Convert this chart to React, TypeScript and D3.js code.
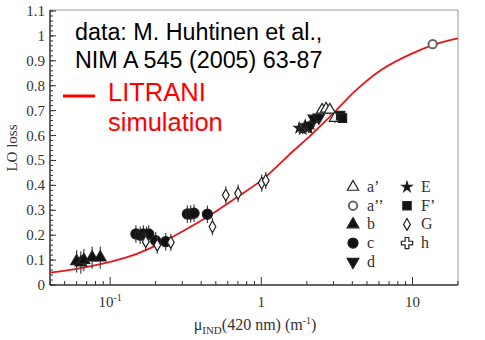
import React from 'react'
import * as d3 from 'd3'

const W = 485
const H = 340
const M = { left: 50, right: 458, top: 11, bottom: 285 }

// LITRANI simulation curve
const curveMu = [0.04, 0.06, 0.1, 0.15, 0.2, 0.3, 0.43, 0.7, 1, 1.64, 2.07, 3, 4.2, 6.2, 10, 13.6, 20]
const curveLo = [0.05, 0.065, 0.093, 0.125, 0.158, 0.215, 0.27, 0.355, 0.42, 0.54, 0.595, 0.69, 0.78, 0.863, 0.93, 0.963, 0.99]

// measured points (Huhtinen et al.)
const bMu = [0.06, 0.064, 0.067, 0.076, 0.086]
const bLo = [0.095, 0.09, 0.1, 0.11, 0.11]
const cMu = [0.148, 0.158, 0.166, 0.174, 0.18, 0.2, 0.233, 0.324, 0.341, 0.359, 0.44]
const cLo = [0.205, 0.2, 0.205, 0.2, 0.205, 0.178, 0.174, 0.285, 0.285, 0.288, 0.284]
const gMu = [0.172, 0.205, 0.252, 0.475, 0.582, 0.702, 1.006, 1.07]
const gLo = [0.174, 0.16, 0.171, 0.234, 0.361, 0.368, 0.409, 0.42]
const eMu = [1.78, 1.88, 1.95, 2.05, 2.12]
const eLo = [0.63, 0.625, 0.64, 0.63, 0.645]
const dMu = [2.1, 2.23, 2.4]
const dLo = [0.64, 0.668, 0.672]
const a1Mu = [2.52, 2.68, 2.84, 3.07]
const a1Lo = [0.703, 0.707, 0.703, 0.67]
const fMu = [3.35, 3.44]
const fLo = [0.68, 0.67]
const a2Mu = [13.6]
const a2Lo = [0.967]

const yTicks = [0, 0.1, 0.2, 0.3, 0.4, 0.5, 0.6, 0.7, 0.8, 0.9, 1, 1.1]
const yTickLabels = ['0', '0.1', '0.2', '0.3', '0.4', '0.5', '0.6', '0.7', '0.8', '0.9', '1', '1.1']
const xTicks = [0.1, 1, 10]

const legendLabels = ['a\u2019', 'a\u2019\u2019', 'b', 'c', 'd', 'E', 'F\u2019', 'G', 'h']

const x = d3.scaleLog().domain([0.04, 20]).range([M.left, M.right])
const y = d3.scaleLinear().domain([0, 1.1]).range([M.bottom, M.top])

type Mk = { type: d3.SymbolType; size: number; fill: boolean; rot?: number }
const markers: Record<string, Mk> = {
  a1: { type: d3.symbolTriangle, size: 55, fill: false },
  a2: { type: d3.symbolCircle, size: 55, fill: false },
  b: { type: d3.symbolTriangle, size: 60, fill: true },
  c: { type: d3.symbolCircle, size: 80, fill: true },
  d: { type: d3.symbolTriangle, size: 60, fill: true, rot: 180 },
  E: { type: d3.symbolStar, size: 32, fill: true },
  F: { type: d3.symbolSquare, size: 70, fill: true },
  G: { type: d3.symbolDiamond, size: 40, fill: false },
  h: { type: d3.symbolCross, size: 70, fill: false }
}
const legendKeys = ['a1', 'a2', 'b', 'c', 'd', 'E', 'F', 'G', 'h']

const Marker = ({ k, cx, cy }: { k: string; cx: number; cy: number }) => {
  const m = markers[k]
  const d = d3.symbol().type(m.type).size(m.size)() || ''
  return (
    <path
      d={d}
      transform={`translate(${cx},${cy}) rotate(${m.rot || 0})`}
      fill={m.fill ? '#111' : '#fff'}
      stroke={k === 'a2' ? '#666' : '#222'}
      strokeWidth={k === 'a2' ? 2 : 1.2}
    />
  )
}

const series = [
  { k: 'b', mu: bMu, lo: bLo, err: 0.045 },
  { k: 'c', mu: cMu, lo: cLo, err: 0.035 },
  { k: 'G', mu: gMu, lo: gLo, err: 0.035 },
  { k: 'E', mu: eMu, lo: eLo, err: 0.02 },
  { k: 'd', mu: dMu, lo: dLo, err: 0.02 },
  { k: 'a1', mu: a1Mu, lo: a1Lo, err: 0.02 },
  { k: 'F', mu: fMu, lo: fLo, err: 0.015 },
  { k: 'a2', mu: a2Mu, lo: a2Lo, err: 0.01 }
]

const App = () => {
  const line = d3
    .line<number>()
    .x((d) => x(d))
    .y((d, i) => y(curveLo[i]))
    .curve(d3.curveMonotoneX)

  const minorY = d3.range(0, 1.1001, 0.02)
  const minorX = x.ticks().filter((t) => !xTicks.includes(t))
  const serif = 'Liberation Serif, Times New Roman, serif'
  const sans = 'Liberation Sans, Arial, sans-serif'

  return (
    <svg width={W} height={H} style={{ position: 'absolute', left: 0, top: 0, background: '#fff' }}>
      {/* frame */}
      <line x1={M.left} x2={M.right} y1={M.top - 1} y2={M.top - 1} stroke="#999" />
      <line x1={M.right} x2={M.right} y1={M.top - 1} y2={M.bottom} stroke="#999" />
      <line x1={M.left} x2={M.left} y1={M.top - 1} y2={M.bottom} stroke="#333" strokeWidth={1.5} />
      <line x1={M.left} x2={M.right} y1={M.bottom} y2={M.bottom} stroke="#333" strokeWidth={1.5} />

      {/* y ticks */}
      {minorY.map((t) => (
        <line key={'my' + t} x1={M.left} x2={M.left + 3} y1={y(t)} y2={y(t)} stroke="#333" />
      ))}
      {yTicks.map((t, i) => (
        <g key={'y' + t}>
          <line x1={M.left} x2={M.left + 6} y1={y(t)} y2={y(t)} stroke="#333" />
          <text x={M.left - 5} y={y(t) + 5} textAnchor="end" fontFamily={serif} fontSize={15} fill="#333">
            {yTickLabels[i]}
          </text>
        </g>
      ))}

      {/* x ticks */}
      {minorX.map((t) => (
        <line key={'mx' + t} x1={x(t)} x2={x(t)} y1={M.bottom} y2={M.bottom - 4} stroke="#333" />
      ))}
      {xTicks.map((t) => (
        <g key={'x' + t}>
          <line x1={x(t)} x2={x(t)} y1={M.bottom} y2={M.bottom - 8} stroke="#333" />
          <text x={x(t)} y={M.bottom + 22} textAnchor="middle" fontFamily={serif} fontSize={15} fill="#333">
            {t < 1 ? (
              <>
                10
                <tspan fontSize={10} dy={-6}>
                  -1
                </tspan>
              </>
            ) : (
              String(t)
            )}
          </text>
        </g>
      ))}

      {/* axis titles */}
      <text x={255} y={330} textAnchor="middle" fontFamily={serif} fontSize={16} fill="#333">
        μ<tspan fontSize={11} dy={4}>IND</tspan>
        <tspan dy={-4}>(420 nm) (m</tspan>
        <tspan fontSize={10} dy={-6}>-1</tspan>
        <tspan dy={6}>)</tspan>
      </text>
      <text
        transform={`translate(17,${y(0.55)}) rotate(-90)`}
        textAnchor="middle"
        fontFamily={serif}
        fontSize={15}
        fill="#333"
      >
        LO loss
      </text>

      {/* simulation curve */}
      <path d={line(curveMu) || ''} fill="none" stroke="#e8161b" strokeWidth={1.8} />

      {/* data */}
      {series.map((s) =>
        s.mu.map((mu, i) => (
          <g key={s.k + i}>
            <line
              x1={x(mu)}
              x2={x(mu)}
              y1={y(s.lo[i] - s.err)}
              y2={y(s.lo[i] + s.err)}
              stroke="#444"
              strokeWidth={1.2}
            />
            <Marker k={s.k} cx={x(mu)} cy={y(s.lo[i])} />
          </g>
        ))
      )}

      {/* marker legend */}
      {legendKeys.map((k, i) => {
        const col = i < 5 ? 0 : 1
        const row = i < 5 ? i : i - 5
        const lx = col === 0 ? 353 : 407
        const ly = 187 + row * 18.7
        return (
          <g key={'lg' + k}>
            <Marker k={k} cx={lx} cy={ly} />
            <text x={lx + 14} y={ly + 5} fontFamily={serif} fontSize={16} fill="#333">
              {legendLabels[i]}
            </text>
          </g>
        )
      })}

      {/* annotation */}
      <text x={75} y={40} fontFamily={sans} fontSize={23.3} fill="#000">
        data: M. Huhtinen et al.,
      </text>
      <text x={75} y={68} fontFamily={sans} fontSize={23.3} fill="#000">
        NIM A 545 (2005) 63-87
      </text>
      <line x1={63} x2={95} y1={96} y2={96} stroke="#ff0000" strokeWidth={3} />
      <text x={108} y={101} fontFamily={sans} fontSize={25.5} fill="#ff0000">
        LITRANI
      </text>
      <text x={108} y={131} fontFamily={sans} fontSize={25.5} fill="#ff0000">
        simulation
      </text>
    </svg>
  )
}

export default App
